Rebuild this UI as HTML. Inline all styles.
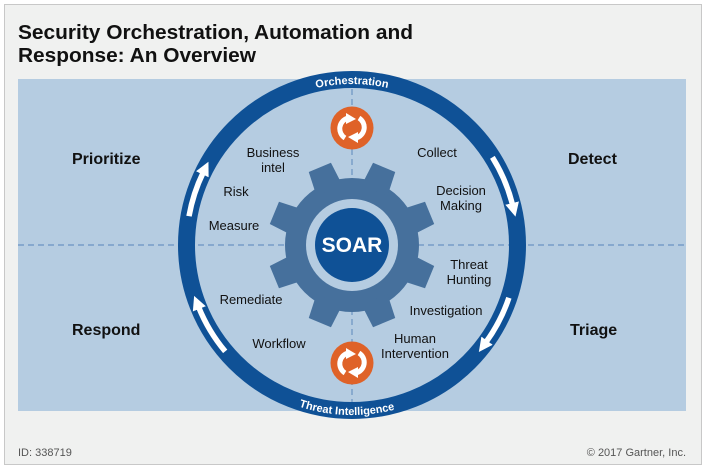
<!DOCTYPE html>
<html><head><meta charset="utf-8"><style>
html,body{margin:0;padding:0;background:#fff;}
body{width:706px;height:470px;position:relative;overflow:hidden;font-family:"Liberation Sans",sans-serif;}
</style></head><body>
<svg width="706" height="470" viewBox="0 0 706 470" xmlns="http://www.w3.org/2000/svg" style="position:absolute;left:0;top:0">
<defs>
<marker id="ah" markerUnits="userSpaceOnUse" markerWidth="16" markerHeight="16" refX="2" refY="8" orient="auto">
<path d="M0,1 L14,8 L0,15 Z" fill="#fff"/>
</marker>
<path id="topArc" d="M191,245 A161,161 0 0 1 513,245"/>
<path id="botArc" d="M182,245 A170,170 0 0 0 522,245"/>
</defs>
<rect x="4.5" y="4.5" width="697" height="460" fill="#f0f1f0" stroke="#c8c8c8" stroke-width="1"/>
<text x="18" y="39" font-size="20.5" font-weight="bold" fill="#111" textLength="395" lengthAdjust="spacingAndGlyphs">Security Orchestration, Automation and</text>
<text x="18" y="62" font-size="20.5" font-weight="bold" fill="#111" textLength="238" lengthAdjust="spacingAndGlyphs">Response: An Overview</text>
<rect x="18" y="79" width="668" height="332" fill="#b5cce1"/>
<line x1="18" y1="245" x2="686" y2="245" stroke="#6a93c2" stroke-width="1.2" stroke-dasharray="6,4"/>
<line x1="352" y1="79" x2="352" y2="411" stroke="#6a93c2" stroke-width="1.2" stroke-dasharray="6,4"/>
<circle cx="352" cy="245" r="165.5" fill="none" stroke="#0f5196" stroke-width="17"/>
<g fill="#46709c">
<circle cx="352" cy="245" r="67"/>
<g id="t"><path d="M340,161 L364,161 L366,186 L338,186 Z" transform="rotate(22.5 352 245)"/></g>
<use href="#t" transform="rotate(45 352 245)"/>
<use href="#t" transform="rotate(90 352 245)"/>
<use href="#t" transform="rotate(135 352 245)"/>
<use href="#t" transform="rotate(180 352 245)"/>
<use href="#t" transform="rotate(225 352 245)"/>
<use href="#t" transform="rotate(270 352 245)"/>
<use href="#t" transform="rotate(315 352 245)"/>
</g>
<circle cx="352" cy="245" r="46" fill="#b5cce1"/>
<circle cx="352" cy="245" r="37" fill="#0f5196"/>
<text x="352" y="252" font-size="21" font-weight="bold" fill="#fff" text-anchor="middle">SOAR</text>
<g fill="none" stroke="#fff" stroke-width="5.5">
<path d="M189,216.2 A165.5,165.5 0 0 1 203.2,172.5" marker-end="url(#ah)"/>
<path d="M492.4,157.3 A165.5,165.5 0 0 1 512.6,205" marker-end="url(#ah)"/>
<path d="M508.9,297.8 A165.5,165.5 0 0 1 485.9,342.3" marker-end="url(#ah)"/>
<path d="M225.2,351.4 A165.5,165.5 0 0 1 198.6,307" marker-end="url(#ah)"/>
</g>
<text font-size="11" font-weight="bold" fill="#fff" text-anchor="middle"><textPath href="#topArc" startOffset="50%">Orchestration</textPath></text>
<text font-size="11" font-weight="bold" fill="#fff" text-anchor="middle"><textPath href="#botArc" startOffset="49%">Threat Intelligence</textPath></text>
<g id="ico">
<circle cx="352" cy="128" r="21.5" fill="#df6228"/>
<g fill="none" stroke="#fff" stroke-width="5">
<path d="M345,138 A11,11 0 0 1 348,118"/>
<path d="M359,118 A11,11 0 0 1 356,138"/>
</g>
<path d="M346,113 L356,119 L346,124 Z" fill="#fff"/>
<path d="M358,132 L348,137 L358,143 Z" fill="#fff"/>
</g>
<use href="#ico" transform="translate(0,235)"/>
<g font-size="13" fill="#111" text-anchor="middle">
<text x="273" y="157">Business</text><text x="273" y="172">intel</text>
<text x="236" y="196">Risk</text>
<text x="234" y="230">Measure</text>
<text x="437" y="157">Collect</text>
<text x="461" y="195">Decision</text><text x="461" y="210">Making</text>
<text x="469" y="269">Threat</text><text x="469" y="284">Hunting</text>
<text x="446" y="315">Investigation</text>
<text x="415" y="343">Human</text><text x="415" y="358">Intervention</text>
<text x="251" y="304">Remediate</text>
<text x="279" y="348">Workflow</text>
</g>
<g font-size="16" font-weight="bold" fill="#111">
<text x="72" y="164">Prioritize</text>
<text x="568" y="164">Detect</text>
<text x="72" y="335">Respond</text>
<text x="570" y="335">Triage</text>
</g>
<text x="18" y="456" font-size="11" fill="#555">ID: 338719</text>
<text x="686" y="456" font-size="11" fill="#555" text-anchor="end">© 2017 Gartner, Inc.</text>
</svg>
</body></html>
